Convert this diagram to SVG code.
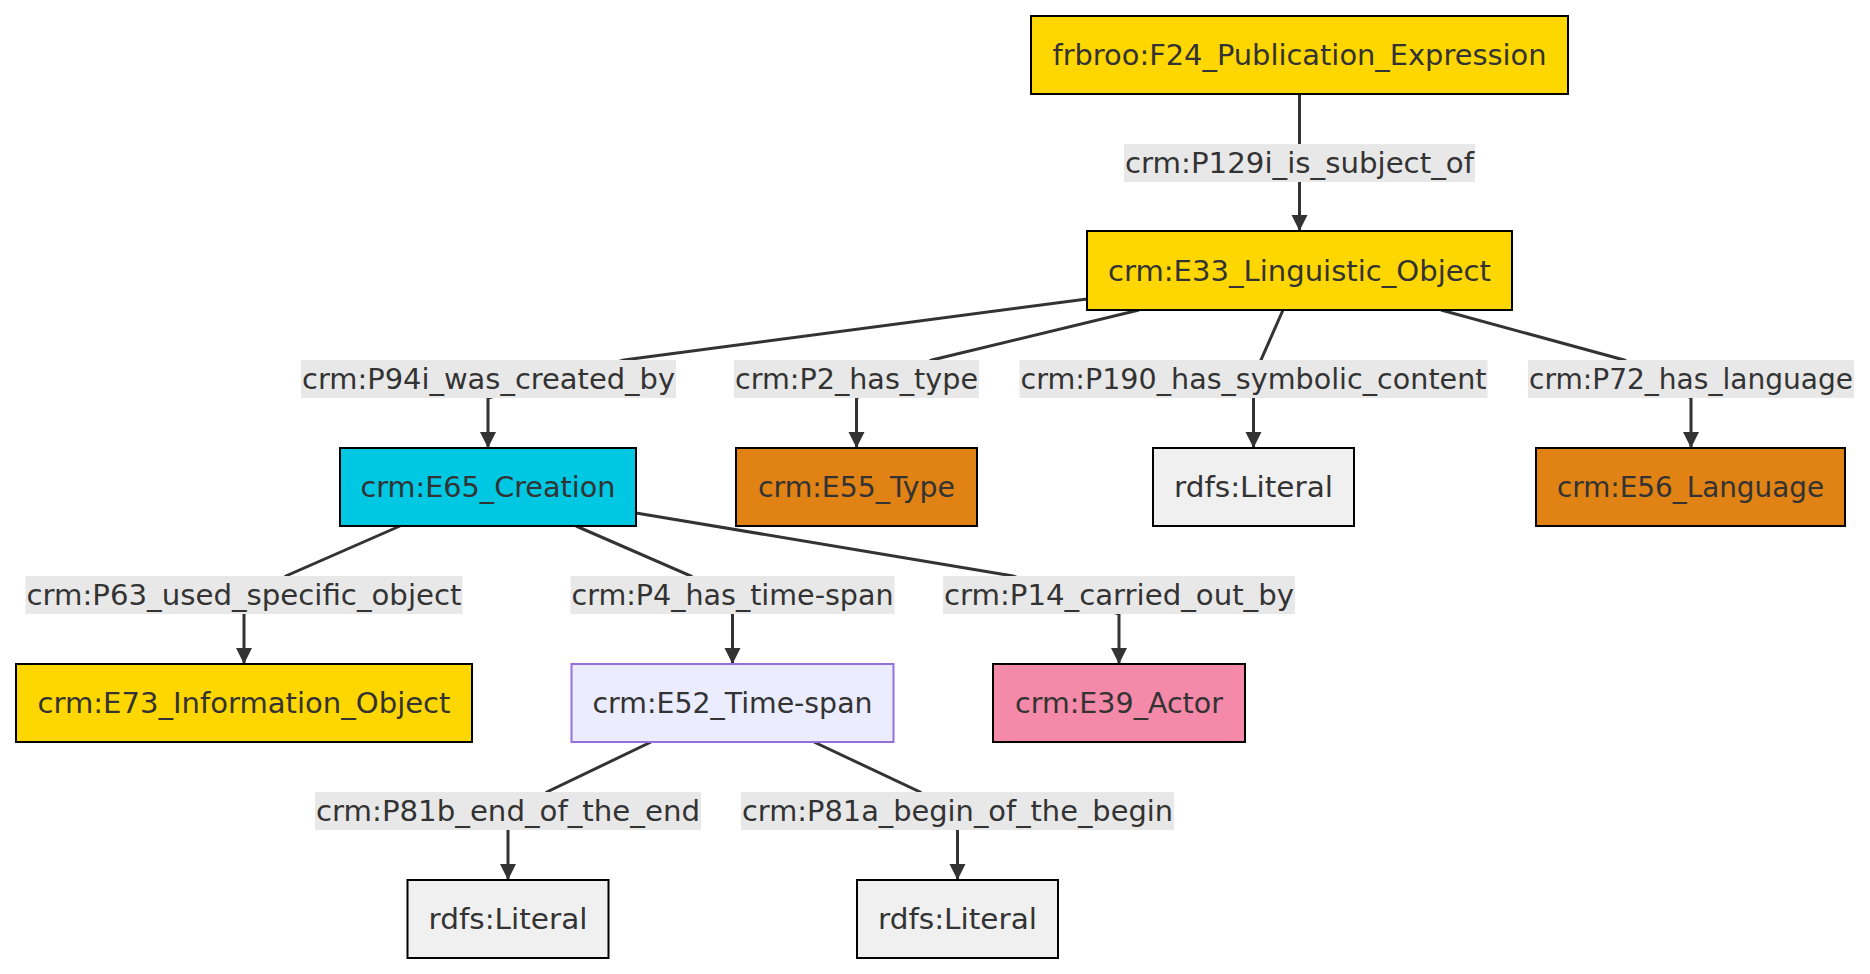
<svg xmlns="http://www.w3.org/2000/svg" width="1870" height="974" viewBox="0 0 1870 974">
  <style>
    .node rect { stroke: #000; stroke-width: 2; }
    .node text, .label text { font-family: "DejaVu Sans", "Liberation Sans", sans-serif; font-size: 28px; fill: #333; text-anchor: middle; }
    .label rect { fill: #e8e8e8; stroke: none; }
    .edge { fill: none; stroke: #333; stroke-width: 3; }
    .gold rect { fill: #ffd700; }
    .cyan rect { fill: #00c7e2; }
    .orange rect { fill: #e08214; }
    .pink rect { fill: #f589a9; }
    .lit rect { fill: #f0f0f0; }
    .span rect { fill: #ececff; stroke: #9370db; }
  </style>
  <defs>
    <marker id="arrow" viewBox="0 0 10 10" refX="10" refY="5" markerWidth="5.5" markerHeight="5.5" markerUnits="strokeWidth" orient="auto">
      <path d="M0,0 L10,5 L0,10 z" fill="#333"/>
    </marker>
  </defs>

  <!-- connectors -->
  <g id="connectors">
    <path class="edge" d="M1299.5,94 L1299.5,231" marker-end="url(#arrow)"/>
    <path class="edge" d="M1087,299 L624,360 L488,398 L488,448" marker-end="url(#arrow)"/>
    <path class="edge" d="M1139,310 L932,360 L856.5,398 L856.5,448" marker-end="url(#arrow)"/>
    <path class="edge" d="M1283,310 L1261,360 L1253.5,398 L1253.5,448" marker-end="url(#arrow)"/>
    <path class="edge" d="M1441,310 L1624,360 L1691,398 L1691,448" marker-end="url(#arrow)"/>
    <path class="edge" d="M400,526 L286,576 L244,614 L244,664" marker-end="url(#arrow)"/>
    <path class="edge" d="M576,526 L691,576 L732.5,614 L732.5,664" marker-end="url(#arrow)"/>
    <path class="edge" d="M636,513 L1013,576 L1119,614 L1119,664" marker-end="url(#arrow)"/>
    <path class="edge" d="M651,742 L547,792 L508,830 L508,880" marker-end="url(#arrow)"/>
    <path class="edge" d="M814,742 L920,792 L957.5,830 L957.5,880" marker-end="url(#arrow)"/>
  </g>

  <!-- connector labels -->
  <g id="edge-labels">
    <g class="label"><rect x="1124" y="144" width="351" height="38"/><text x="1299.5" y="173" textLength="349" lengthAdjust="spacingAndGlyphs">crm:P129i_is_subject_of</text></g>
    <g class="label"><rect x="301" y="360" width="375" height="38"/><text x="488.5" y="389" textLength="373" lengthAdjust="spacingAndGlyphs">crm:P94i_was_created_by</text></g>
    <g class="label"><rect x="734" y="360" width="245" height="38"/><text x="856.5" y="389" textLength="243" lengthAdjust="spacingAndGlyphs">crm:P2_has_type</text></g>
    <g class="label"><rect x="1019.5" y="360" width="468" height="38"/><text x="1253.5" y="389" textLength="466" lengthAdjust="spacingAndGlyphs">crm:P190_has_symbolic_content</text></g>
    <g class="label"><rect x="1528" y="360" width="326" height="38"/><text x="1691" y="389" textLength="324" lengthAdjust="spacingAndGlyphs">crm:P72_has_language</text></g>
    <g class="label"><rect x="25.5" y="576" width="437" height="38"/><text x="244" y="605" textLength="435" lengthAdjust="spacingAndGlyphs">crm:P63_used_specific_object</text></g>
    <g class="label"><rect x="570.5" y="576" width="324" height="38"/><text x="732.5" y="605" textLength="322" lengthAdjust="spacingAndGlyphs">crm:P4_has_time-span</text></g>
    <g class="label"><rect x="943" y="576" width="352" height="38"/><text x="1119" y="605" textLength="350" lengthAdjust="spacingAndGlyphs">crm:P14_carried_out_by</text></g>
    <g class="label"><rect x="315" y="792" width="386" height="38"/><text x="508" y="821" textLength="384" lengthAdjust="spacingAndGlyphs">crm:P81b_end_of_the_end</text></g>
    <g class="label"><rect x="741" y="792" width="433" height="38"/><text x="957.5" y="821" textLength="431" lengthAdjust="spacingAndGlyphs">crm:P81a_begin_of_the_begin</text></g>
  </g>

  <!-- nodes -->
  <g id="F24" class="node gold"><rect x="1031" y="16" width="537" height="78"/><text x="1299.5" y="65" textLength="494" lengthAdjust="spacingAndGlyphs">frbroo:F24_Publication_Expression</text></g>
  <g id="E33" class="node gold"><rect x="1087" y="231" width="425" height="79"/><text x="1299.5" y="281" textLength="383" lengthAdjust="spacingAndGlyphs">crm:E33_Linguistic_Object</text></g>
  <g id="E65" class="node cyan"><rect x="340" y="448" width="296" height="78"/><text x="488" y="497" textLength="255" lengthAdjust="spacingAndGlyphs">crm:E65_Creation</text></g>
  <g id="E55" class="node orange"><rect x="736" y="448" width="241" height="78"/><text x="856.5" y="497" textLength="197" lengthAdjust="spacingAndGlyphs">crm:E55_Type</text></g>
  <g id="Literal1" class="node lit"><rect x="1153" y="448" width="201" height="78"/><text x="1253.5" y="497" textLength="159" lengthAdjust="spacingAndGlyphs">rdfs:Literal</text></g>
  <g id="E56" class="node orange"><rect x="1536" y="448" width="309" height="78"/><text x="1690.5" y="497" textLength="267" lengthAdjust="spacingAndGlyphs">crm:E56_Language</text></g>
  <g id="E73" class="node gold"><rect x="16" y="664" width="456" height="78"/><text x="244" y="713" textLength="413" lengthAdjust="spacingAndGlyphs">crm:E73_Information_Object</text></g>
  <g id="E52" class="node span"><rect x="571.5" y="664" width="322" height="78"/><text x="732.5" y="713" textLength="280" lengthAdjust="spacingAndGlyphs">crm:E52_Time-span</text></g>
  <g id="E39" class="node pink"><rect x="993" y="664" width="252" height="78"/><text x="1119" y="713" textLength="208" lengthAdjust="spacingAndGlyphs">crm:E39_Actor</text></g>
  <g id="Literal2" class="node lit"><rect x="407.5" y="880" width="201" height="78"/><text x="508" y="929" textLength="159" lengthAdjust="spacingAndGlyphs">rdfs:Literal</text></g>
  <g id="Literal3" class="node lit"><rect x="857" y="880" width="201" height="78"/><text x="957.5" y="929" textLength="159" lengthAdjust="spacingAndGlyphs">rdfs:Literal</text></g>
</svg>
